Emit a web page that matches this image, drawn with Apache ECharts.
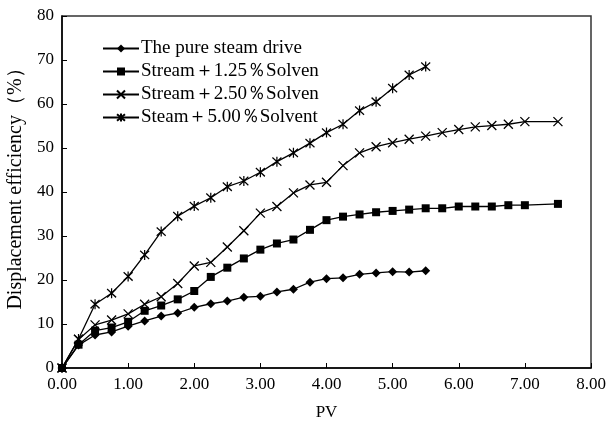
<!DOCTYPE html>
<html><head><meta charset="utf-8">
<script src="https://cdn.jsdelivr.net/npm/echarts@6/dist/echarts.min.js"></script>
<style>html,body{margin:0;padding:0;background:#fff}#c{width:609px;height:423px}</style>
</head><body><div id="c"></div>
<script>
var seriesNames = ['The pure steam drive', 'Stream\uFF0B1.25\uFF05Solven', 'Stream\uFF0B2.50\uFF05Solven', 'Steam\uFF0B5.00\uFF05Solvent'];
var pvPure = [0,0.25,0.5,0.75,1.0,1.25,1.5,1.75,2.0,2.25,2.5,2.75,3.0,3.25,3.5,3.75,4.0,4.25,4.5,4.75,5.0,5.25,5.5];
var valPure = [0,5.2,7.5,8.2,9.5,10.7,11.8,12.5,13.8,14.6,15.2,16.1,16.3,17.3,17.9,19.5,20.3,20.5,21.3,21.6,21.9,21.8,22.1];
var pv125 = [0,0.25,0.5,0.75,1.0,1.25,1.5,1.75,2.0,2.25,2.5,2.75,3.0,3.25,3.5,3.75,4.0,4.25,4.5,4.75,5.0,5.25,5.5,5.75,6.0,6.25,6.5,6.75,7.0,7.5];
var val125 = [0,5.3,8.5,9.2,10.5,13.0,14.2,15.6,17.5,20.7,22.8,24.9,26.9,28.3,29.2,31.4,33.6,34.4,34.9,35.4,35.7,36.0,36.3,36.3,36.7,36.7,36.7,37.0,37.0,37.3];
var pv250 = [0,0.25,0.5,0.75,1.0,1.25,1.5,1.75,2.0,2.25,2.5,2.75,3.0,3.25,3.5,3.75,4.0,4.25,4.5,4.75,5.0,5.25,5.5,5.75,6.0,6.25,6.5,6.75,7.0,7.5];
var val250 = [0,6.5,9.8,10.9,12.3,14.5,16.2,19.2,23.2,24.0,27.5,31.2,35.2,36.7,39.8,41.6,42.2,46.0,48.9,50.3,51.2,52.0,52.7,53.5,54.2,54.8,55.1,55.4,56.0,56.0];
var pv500 = [0,0.25,0.5,0.75,1.0,1.25,1.5,1.75,2.0,2.25,2.5,2.75,3.0,3.25,3.5,3.75,4.0,4.25,4.5,4.75,5.0,5.25,5.5];
var val500 = [0,6.6,14.5,17.0,20.8,25.7,31.0,34.5,36.8,38.7,41.2,42.5,44.5,46.9,48.9,51.1,53.5,55.4,58.5,60.5,63.6,66.6,68.5];
var xTicks = [0,1,2,3,4,5,6,7,8];
var yTicks = [0,10,20,30,40,50,60,70,80];

function pairs(xs, ys){ return xs.map(function(x,i){ return [x, ys[i]]; }); }

var symX = 'path://M0,0L10,10M10,0L0,10';
var symAst = 'path://M0,0L10,10M10,0L0,10M5,-1L5,11';
var symbols = ['diamond','rect',symX,symAst];
var sizes = [9,8,[9,9],[9,10]];
var datas = [pairs(pvPure,valPure), pairs(pv125,val125), pairs(pv250,val250), pairs(pv500,val500)];
var serif = '"Liberation Serif","DejaVu Serif",serif';

var series = datas.map(function(d,i){
  return {
    name: seriesNames[i], type: 'line', data: d,
    symbol: symbols[i], symbolSize: sizes[i], showAllSymbol: true,
    lineStyle: {color:'#000', width:1.3},
    itemStyle: {color: i>=2 ? 'rgba(0,0,0,0)' : '#000', borderColor:'#000', borderWidth: i>=2 ? 1.3 : 0},
    animation:false
  };
});

var chart = echarts.init(document.getElementById('c'));
chart.setOption({
  backgroundColor:'#fff',
  animation:false,
  grid:{left:62,right:18,top:16,bottom:55,containLabel:false,outerBoundsMode:'none',show:true,borderColor:'#333',borderWidth:1.5,backgroundColor:'transparent'},
  legend:{
    orient:'vertical', left:97, top:34, itemWidth:36, itemHeight:10, itemGap:4,
    textStyle:{fontFamily:serif, fontSize:19, color:'#000', padding:[0,0,0,-3]},
    data: seriesNames
  },
  xAxis:{
    type:'value', min:xTicks[0], max:xTicks[xTicks.length-1], interval:1,
    name:'PV', nameLocation:'middle', nameGap:36,
    nameTextStyle:{fontFamily:serif, fontSize:17, color:'#000'},
    axisLine:{lineStyle:{color:'#000', width:1.5}},
    axisTick:{inside:true, length:5, lineStyle:{color:'#000'}},
    axisLabel:{fontFamily:serif, fontSize:17, color:'#000', margin:8, formatter:function(v){return v.toFixed(2);}},
    splitLine:{show:false}
  },
  yAxis:{
    type:'value', min:yTicks[0], max:yTicks[yTicks.length-1], interval:10,
    name:'Displacement efficiency\uFF08%\uFF09', nameLocation:'middle', nameGap:36,
    nameTextStyle:{fontFamily:serif, fontSize:20, color:'#000', padding:[0,0,0,16]},
    axisLine:{lineStyle:{color:'#000', width:1.5}},
    axisTick:{inside:true, length:5, lineStyle:{color:'#000'}},
    axisLabel:{fontFamily:serif, fontSize:17, color:'#000', margin:8},
    splitLine:{show:false}
  },
  series: series
});
</script></body></html>
